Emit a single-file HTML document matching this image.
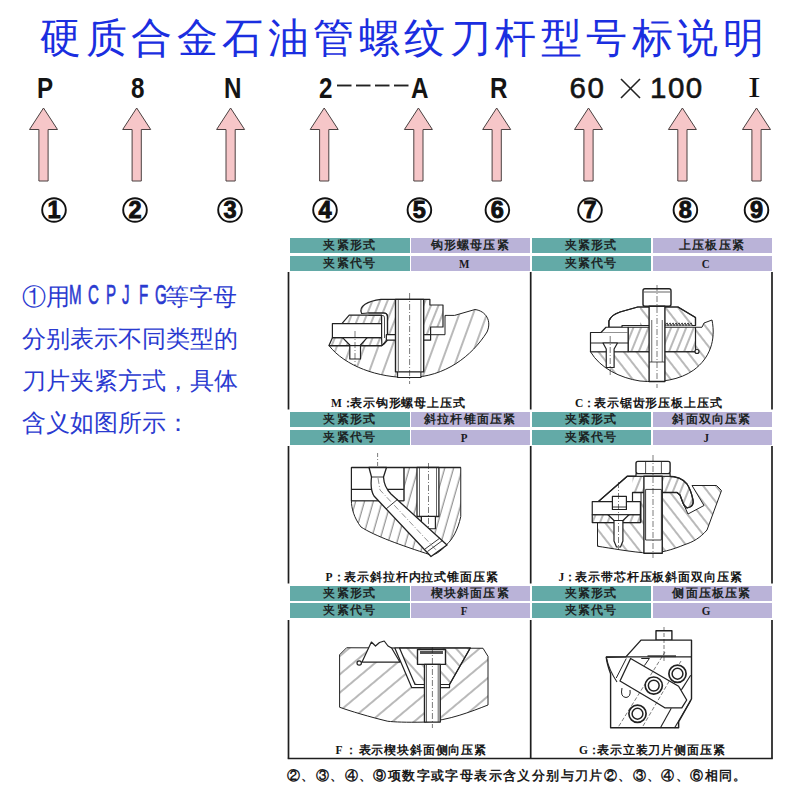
<!DOCTYPE html>
<html><head><meta charset="utf-8">
<style>
html,body{margin:0;padding:0;background:#fff;}
body{width:800px;height:800px;position:relative;overflow:hidden;font-family:"Liberation Sans",sans-serif;}
.a{position:absolute;white-space:nowrap;}
#title{left:40px;top:14px;font-size:41px;letter-spacing:4.5px;color:#1a2ee0;line-height:48px;}
.lt{font-size:29.5px;font-weight:bold;color:#141414;line-height:30px;top:73px;transform:scaleX(0.82);transform-origin:left top;}
.left{font-size:24px;color:#2a3ad0;line-height:30px;left:22px;}
.lg{font-size:28px;color:#2a3ad0;line-height:30px;top:280px;-webkit-text-stroke:0.7px #2a3ad0;transform:scaleX(0.54);transform-origin:left top;}
.hd{position:absolute;height:15px;font-size:12px;line-height:15px;text-align:center;color:#1c2424;font-weight:bold;letter-spacing:1.2px;font-size:11.5px;}
.hl{font-family:"Liberation Serif",serif;font-size:13px;font-weight:bold;display:inline-block;transform:scaleX(0.85);position:relative;left:-5.5px;color:#1a1a22;}
.t{background:#63aaa7;}
.p{background:#bab3d8;}
.cap{position:absolute;font-size:11.5px;line-height:14px;color:#151515;font-weight:bold;letter-spacing:0.85px;white-space:nowrap;}
.cl{font-family:"Liberation Serif",serif;letter-spacing:0;}
</style></head><body>
<div id="title" class="a">硬质合金石油管螺纹刀杆型号标说明</div>

<div class="a lt" style="left:37px">P</div>
<div class="a lt" style="left:131px">8</div>
<div class="a lt" style="left:224px">N</div>
<div class="a lt" style="left:319px">2</div>
<div class="a lt" style="left:411px">A</div>
<div class="a lt" style="left:490px">R</div>
<div class="a" style="left:569.5px;top:73px;font-size:29.5px;line-height:30px;color:#141414;letter-spacing:1.5px;-webkit-text-stroke:0.6px #141414">60</div>
<div class="a" style="left:650px;top:73px;font-size:29.5px;line-height:30px;color:#141414;letter-spacing:1.5px;-webkit-text-stroke:0.6px #141414">100</div>
<div class="a" style="left:748px;top:72px;font-family:'Liberation Serif',serif;font-size:29px;line-height:30px;color:#111;transform:scaleX(1.3);transform-origin:left top">I</div>
<svg class="a" style="left:0;top:0" width="800" height="240">
  <g stroke="#222" stroke-width="1.6">
    <line x1="337" y1="85.5" x2="351.5" y2="85.5" stroke-width="1.9"/><line x1="356" y1="85.5" x2="370.5" y2="85.5" stroke-width="1.9"/><line x1="375" y1="85.5" x2="389.5" y2="85.5" stroke-width="1.9"/><line x1="394" y1="85.5" x2="408.5" y2="85.5" stroke-width="1.9"/>
    <line x1="621" y1="79" x2="640" y2="98"/><line x1="640" y1="79" x2="621" y2="98"/>
  </g>
  <g fill="#f6c6c8" stroke="#4a4040" stroke-width="1">
    <path id="arr" d="M0,108 L14,129.5 L4.6,129.5 L4.6,181 L-4.6,181 L-4.6,129.5 L-14,129.5 Z" transform="translate(43.5,0)"/>
    <path d="M0,108 L14,129.5 L4.6,129.5 L4.6,181 L-4.6,181 L-4.6,129.5 L-14,129.5 Z" transform="translate(136.7,0)"/>
    <path d="M0,108 L14,129.5 L4.6,129.5 L4.6,181 L-4.6,181 L-4.6,129.5 L-14,129.5 Z" transform="translate(230.6,0)"/>
    <path d="M0,108 L14,129.5 L4.6,129.5 L4.6,181 L-4.6,181 L-4.6,129.5 L-14,129.5 Z" transform="translate(324.2,0)"/>
    <path d="M0,108 L14,129.5 L4.6,129.5 L4.6,181 L-4.6,181 L-4.6,129.5 L-14,129.5 Z" transform="translate(418.4,0)"/>
    <path d="M0,108 L14,129.5 L4.6,129.5 L4.6,181 L-4.6,181 L-4.6,129.5 L-14,129.5 Z" transform="translate(496.7,0)"/>
    <path d="M0,108 L14,129.5 L4.6,129.5 L4.6,181 L-4.6,181 L-4.6,129.5 L-14,129.5 Z" transform="translate(588.5,0)"/>
    <path d="M0,108 L14,129.5 L4.6,129.5 L4.6,181 L-4.6,181 L-4.6,129.5 L-14,129.5 Z" transform="translate(682.4,0)"/>
    <path d="M0,108 L14,129.5 L4.6,129.5 L4.6,181 L-4.6,181 L-4.6,129.5 L-14,129.5 Z" transform="translate(756.5,0)"/>
  </g>
  <g fill="none" stroke="#111" stroke-width="1.9">
    <circle cx="54" cy="210" r="11.8"/><circle cx="135" cy="210" r="11.8"/><circle cx="230" cy="210" r="11.8"/><circle cx="325" cy="210" r="11.8"/><circle cx="419.4" cy="210" r="11.8"/><circle cx="497.4" cy="210" r="11.8"/><circle cx="590" cy="210" r="11.8"/><circle cx="685.4" cy="210" r="11.8"/><circle cx="756.5" cy="210" r="11.8"/>
  </g>
  <g fill="#111" stroke="#111" stroke-width="0.9" font-family="Liberation Sans" font-weight="bold" font-size="23.5" text-anchor="middle">
    <text x="54" y="217.8">1</text><text x="135" y="217.8">2</text><text x="230" y="217.8">3</text><text x="325" y="217.8">4</text><text x="419.4" y="217.8">5</text><text x="497.4" y="217.8">6</text><text x="590" y="217.8">7</text><text x="685.4" y="217.8">8</text><text x="756.5" y="217.8">9</text>
  </g>
</svg>

<div class="a left" style="top:282px">①用</div>
<div class="a left" style="top:282px;left:165px">等字母</div>
<div class="a lg" style="left:69px">M</div><div class="a lg" style="left:87.5px">C</div><div class="a lg" style="left:105.5px">P</div><div class="a lg" style="left:122px">J</div><div class="a lg" style="left:138.5px">F</div><div class="a lg" style="left:155px">G</div>
<div class="a left" style="top:324px">分别表示不同类型的</div>
<div class="a left" style="top:366px">刀片夹紧方式，具体</div>
<div class="a left" style="top:408px">含义如图所示：</div>

<!-- table headers -->
<div class="hd t" style="left:290px;top:238px;width:119.5px">夹紧形式</div>
<div class="hd p" style="left:411px;top:238px;width:118.5px">钩形螺母压紧</div>
<div class="hd t" style="left:531.5px;top:238px;width:119px">夹紧形式</div>
<div class="hd p" style="left:652.5px;top:238px;width:119px">上压板压紧</div>
<div class="hd t" style="left:290px;top:255.5px;width:119.5px">夹紧代号</div>
<div class="hd p" style="left:411px;top:255.5px;width:118.5px"><span class="hl">M</span></div>
<div class="hd t" style="left:531.5px;top:255.5px;width:119px">夹紧代号</div>
<div class="hd p" style="left:652.5px;top:255.5px;width:119px"><span class="hl">C</span></div>

<div class="hd t" style="left:290px;top:412px;width:119.5px">夹紧形式</div>
<div class="hd p" style="left:411px;top:412px;width:118.5px">斜拉杆锥面压紧</div>
<div class="hd t" style="left:531.5px;top:412px;width:119px">夹紧形式</div>
<div class="hd p" style="left:652.5px;top:412px;width:119px">斜面双向压紧</div>
<div class="hd t" style="left:290px;top:429.5px;width:119.5px">夹紧代号</div>
<div class="hd p" style="left:411px;top:429.5px;width:118.5px"><span class="hl">P</span></div>
<div class="hd t" style="left:531.5px;top:429.5px;width:119px">夹紧代号</div>
<div class="hd p" style="left:652.5px;top:429.5px;width:119px"><span class="hl">J</span></div>

<div class="hd t" style="left:290px;top:586px;width:119.5px">夹紧形式</div>
<div class="hd p" style="left:411px;top:586px;width:118.5px">楔块斜面压紧</div>
<div class="hd t" style="left:531.5px;top:586px;width:119px">夹紧形式</div>
<div class="hd p" style="left:652.5px;top:586px;width:119px">侧面压板压紧</div>
<div class="hd t" style="left:290px;top:603px;width:119.5px">夹紧代号</div>
<div class="hd p" style="left:411px;top:603px;width:118.5px"><span class="hl">F</span></div>
<div class="hd t" style="left:531.5px;top:603px;width:119px">夹紧代号</div>
<div class="hd p" style="left:652.5px;top:603px;width:119px"><span class="hl">G</span></div>

<svg class="a" style="left:0;top:0" width="800" height="800">
  <g stroke="#1e1e1e" stroke-width="1.7">
    <line x1="288.5" y1="272" x2="288.5" y2="409.5"/><line x1="530.7" y1="272" x2="530.7" y2="409.5"/><line x1="772" y1="272" x2="772" y2="409.5"/>
    <line x1="288.5" y1="446" x2="288.5" y2="583.5"/><line x1="530.7" y1="446" x2="530.7" y2="583.5"/><line x1="772" y1="446" x2="772" y2="583.5"/>
    <line x1="288.5" y1="620" x2="288.5" y2="758.5"/><line x1="530.7" y1="620" x2="530.7" y2="758.5"/><line x1="772" y1="620" x2="772" y2="758.5"/>
    <line x1="287.7" y1="758.5" x2="772.8" y2="758.5"/>
  </g>
</svg>


<svg class="a" style="left:0;top:0" width="800" height="800">
<defs>
 <pattern id="hb" patternUnits="userSpaceOnUse" width="13" height="50" patternTransform="rotate(20)"><line x1="6" y1="0" x2="6" y2="50" stroke="#444" stroke-width="0.75"/></pattern>
 <pattern id="hp" patternUnits="userSpaceOnUse" width="8.5" height="50" patternTransform="rotate(16)"><line x1="4" y1="0" x2="4" y2="50" stroke="#444" stroke-width="0.75"/></pattern>
 <pattern id="hs" patternUnits="userSpaceOnUse" width="7" height="50" patternTransform="rotate(22)"><line x1="3" y1="0" x2="3" y2="50" stroke="#444" stroke-width="0.75"/></pattern>
 <pattern id="hbr" patternUnits="userSpaceOnUse" width="10" height="50" patternTransform="rotate(-38)"><line x1="5" y1="0" x2="5" y2="50" stroke="#444" stroke-width="0.75"/></pattern>
 <pattern id="hsr" patternUnits="userSpaceOnUse" width="7" height="50" patternTransform="rotate(-38)"><line x1="3" y1="0" x2="3" y2="50" stroke="#444" stroke-width="0.75"/></pattern>
 <pattern id="hf" patternUnits="userSpaceOnUse" width="14" height="50" patternTransform="rotate(50)"><line x1="7" y1="0" x2="7" y2="50" stroke="#444" stroke-width="0.75"/></pattern>
 <pattern id="hfr" patternUnits="userSpaceOnUse" width="9" height="50" patternTransform="rotate(-42)"><line x1="4" y1="0" x2="4" y2="50" stroke="#444" stroke-width="0.75"/></pattern>
</defs>
<g stroke="#222" stroke-width="1.2" stroke-linejoin="round" fill="none">

<!-- ===== M ===== -->
<path fill="url(#hb)" stroke-width="1" d="M329,345.6 C345,366 378,378 410,377.5 C445,377 472,356 487,332 C492,321 486,311 475,309.5 L454.6,315.4 L445,315.4 L445,334.7 L386.4,334.7 L386.4,340 L381.9,345.6 Z"/>
<path fill="url(#hs)" d="M361.6,313.5 C358,306 368,301 381,299.4 L429.9,299.4 L429.9,305 L443,305 L443,327 L430.6,327 L430.6,334.7 L387.5,334.7 L387.5,316 Q387,313 384,313 L368.4,313 Z"/>
<path fill="url(#hs)" d="M341.9,323.6 L349.2,315.2 L381.6,315.2 L381.6,323.6 Z"/>
<path fill="url(#hs)" d="M332.4,337.7 L381.6,337.7 L381.9,345.6 L329,345.6 Z"/>
<rect x="332.4" y="323.6" width="49.2" height="14.1" fill="#fff"/>
<path fill="#fff" d="M342.5,337.7 L367.2,337.7 L360.5,345 L360.5,359 L349.8,359 L349.8,345 Z"/>
<path d="M368.4,313 L384,313 Q387.5,313 387.5,317 L387.5,340 L384,344 L381.9,345.6"/><path d="M368.4,315.5 L383,315.5 Q384.5,315.5 384.5,318 L384.5,338" stroke-width="0.8"/>
<rect x="386.4" y="334.7" width="44.2" height="5.5" fill="#fff"/>
<rect x="397.6" y="371" width="23.3" height="6.5" fill="#fff" stroke-width="1.1"/>
<rect x="395.5" y="299.4" width="28.2" height="72.5" fill="#fff" stroke-width="1.4"/>
<line x1="398.3" y1="300" x2="398.3" y2="371" stroke-width="0.7"/><line x1="420.9" y1="300" x2="420.9" y2="371" stroke-width="0.7"/>
<line x1="409.6" y1="293" x2="409.6" y2="384" stroke-width="0.6" stroke-dasharray="6,2,1,2"/>
<line x1="355" y1="331" x2="355" y2="366" stroke-width="0.6" stroke-dasharray="6,2,1,2"/>
<line x1="329" y1="345.6" x2="382" y2="345.6" stroke-width="1.4"/>

<!-- ===== C ===== -->
<path fill="url(#hbr)" stroke-width="1" d="M590.5,351.75 L695.5,351.75 L695.5,327.25 L702,327.25 L704,323 L712,320 C716,340 710,358 693.75,370 C680,380 660,383 640,381 C620,378 600,368 590.5,351.75 Z"/>
<rect x="628.1" y="327.25" width="67.4" height="24.5" fill="url(#hs)"/>
<path fill="#fff" d="M608.9,327.25 L608.9,321 Q611,315 620,312 L637.75,307 L678,307 L695.5,317.6 L695.5,325.5 L664,325.5 L622,325.5 L622,327.25 Z"/>
<path fill="url(#hbr)" stroke="none" d="M640,307 L678,307 L695.5,317.6 L695.5,325.5 L640,325.5 Z"/>
<path d="M608.9,327.25 L608.9,321 Q611,315 620,312 L637.75,307 L678,307 L695.5,317.6 L695.5,325.5 L664,325.5"/>
<path d="M665,325.5 l2.2,-2.6 l0.8,2.6 l2.2,-2.6 l0.8,2.6 l2.2,-2.6 l0.8,2.6 l2.2,-2.6 l0.8,2.6 l2.2,-2.6 l0.8,2.6 l2.2,-2.6 l0.8,2.6 l2.2,-2.6 l0.8,2.6 l2.2,-2.6 l0.8,2.6 l2.2,-2.6 l0.8,2.6" stroke-width="0.9" fill="#fff"/>
<line x1="622" y1="325.5" x2="664" y2="325.5"/>
<rect x="590.5" y="332.5" width="37.6" height="19.25" fill="#fff"/>
<path fill="#fff" d="M601,332.5 L606,327.25 L628.1,327.25 L628.1,332.5"/>
<line x1="590.5" y1="343" x2="628.1" y2="343"/>
<path fill="#fff" d="M603,343 L617.5,343 L614.1,349 L614.1,367.5 L606.25,367.5 L606.25,349 Z"/>
<rect x="643" y="288.75" width="28" height="17.5" rx="2" fill="#fff" stroke-width="1.4"/>
<line x1="644" y1="292" x2="670" y2="292" stroke-width="0.7"/>
<rect x="649.1" y="306.25" width="15.8" height="75.25" fill="#fff" stroke-width="1.4"/>
<line x1="651.75" y1="320" x2="651.75" y2="362" stroke-width="0.7"/><line x1="662.25" y1="320" x2="662.25" y2="362" stroke-width="0.7"/>
<line x1="649.1" y1="362" x2="664.9" y2="362" stroke-width="0.8"/>
<line x1="657" y1="285" x2="657" y2="388" stroke-width="0.6" stroke-dasharray="6,2,1,2"/>
<line x1="610.2" y1="336" x2="610.2" y2="375" stroke-width="0.6" stroke-dasharray="6,2,1,2"/>
<circle cx="697" cy="351.5" r="2" fill="#fff"/>

<!-- ===== P ===== -->
<path fill="url(#hp)" stroke-width="1" d="M351.4,500.75 L403.9,500.75 L403.9,467.5 L460.75,467.5 L460.75,516.5 C458,530 452,540 446.75,544.5 C440,552 435,555 431,555 C400,545 375,536 361,527 C354,518 351.4,508 351.4,500.75 Z"/>
<rect x="351.4" y="467.5" width="52.5" height="33.25" fill="#fff"/>
<line x1="351.4" y1="489.4" x2="403.9" y2="489.4"/>
<line x1="351.4" y1="467.5" x2="460.75" y2="467.5" stroke-width="1.5"/>
<rect x="417" y="467.5" width="21.9" height="49" fill="#fff" stroke-width="1.3"/>
<rect x="421.4" y="516.5" width="14" height="12.25" fill="#fff"/>
<line x1="419.5" y1="468" x2="419.5" y2="516" stroke-width="0.7"/><line x1="436.5" y1="468" x2="436.5" y2="516" stroke-width="0.7"/>
<path fill="#fff" stroke-width="1.3" d="M369,467.5 L386.5,467.5 L383.5,477 Q384,487 391,494 L447,545 L431,556.5 L374,496 Q370,490 371.5,477 Z"/>
<line x1="371.5" y1="477" x2="383.5" y2="477" stroke-width="0.9"/>
<line x1="386" y1="509" x2="398" y2="499" stroke-width="0.9"/>
<line x1="425" y1="549" x2="440" y2="538" stroke-width="0.9"/><line x1="427.5" y1="551.5" x2="442.5" y2="540.5" stroke-width="0.9"/>
<line x1="377.6" y1="453" x2="377.6" y2="466" stroke-width="0.6" stroke-dasharray="4,2,1,2"/>
<path d="M378,478 L380,490 L438,552" stroke-width="0.5" stroke-dasharray="6,2,1,2"/>
<line x1="428.5" y1="463" x2="428.5" y2="528" stroke-width="0.6" stroke-dasharray="6,2,1,2"/>

<!-- ===== J ===== -->
<path fill="url(#hbr)" stroke-width="1" d="M597.5,522.6 L641,522.6 L641,492.5 L677,492.5 L680,495 L683,503 L688,514 L704,505.5 L692,485.5 L716.5,485.5 L721.5,490.5 L707,530 C700,538 693,542 685,544.5 C672,550 660,553 650,553.25 C630,552 610,548 597.5,546.25 Z"/>
<path fill="#fff" d="M598.4,501.6 L627.25,476.25 L668,476.25 Q681,476.25 687,484 Q691,490 693,500 Q694,505 690,507 L687,508 Q684,506 683,503 L680,495 L677,492.5 L632.5,492.5 L632.5,501.6 Z"/>
<path fill="url(#hs)" stroke="none" d="M632.5,476.25 L668,476.25 Q681,476.25 687,484 Q691,490 693,500 Q694,505 690,507 L687,508 Q684,506 683,503 L680,495 L677,492.5 L632.5,492.5 Z"/>
<path d="M598.4,501.6 L627.25,476.25 L668,476.25 Q681,476.25 687,484 Q691,490 693,500 Q694,505 690,507 L687,508 Q684,506 683,503 L680,495 L677,492.5 L632.5,492.5" stroke-width="1.3"/>
<rect x="592.25" y="501.6" width="48.15" height="13.15" fill="#fff"/>
<rect x="592.25" y="514.75" width="48.15" height="7.85" fill="url(#hs)"/>
<rect x="612.4" y="496.4" width="14" height="13.1" fill="#fff"/>
<line x1="612.4" y1="507" x2="626.4" y2="507" stroke-width="0.9"/>
<path fill="#fff" d="M608,514.75 L629,514.75 L623,520.5 L614,520.5 Z"/>
<path fill="#fff" d="M614,520.5 L622.9,520.5 L622.9,541 L620.5,547 L616.5,547 L614,541 Z"/>
<rect x="636" y="461.4" width="34.1" height="12.2" rx="2" fill="#fff" stroke-width="1.4"/>
<line x1="645.6" y1="462" x2="645.6" y2="473" stroke-width="0.8"/><line x1="661.4" y1="462" x2="661.4" y2="473" stroke-width="0.8"/>
<rect x="636" y="473.6" width="34.1" height="2.65" fill="#fff"/>
<rect x="643.9" y="476.25" width="18.35" height="77" fill="#fff" stroke-width="1.4"/>
<rect x="645.6" y="489.4" width="15.8" height="50.6" fill="#fff" stroke-width="0.9"/>
<line x1="653" y1="455" x2="653" y2="558" stroke-width="0.6" stroke-dasharray="6,2,1,2"/>
<line x1="618.5" y1="482" x2="618.5" y2="550" stroke-width="0.6" stroke-dasharray="6,2,1,2"/>

<!-- ===== F ===== -->
<path fill="url(#hf)" stroke-width="1" d="M346.6,647.75 L483,648.25 L488,656.4 L488,705 C470,712 450,720 425,722.1 C405,722.5 395,722 387.75,721.25 C370,717 350,711 339.6,707.25 L339.6,654.75 Z"/>
<path fill="#fff" d="M394.8,648 L411.8,687.7 L449.5,687.7 L449.5,684.5 L470.25,648 Z"/>
<path fill="url(#hfr)" d="M399.5,648 L415,684.5 L449.5,684.5 L470.25,648 Z"/>
<path fill="#fff" d="M361.9,662.2 L371.4,642 L375.5,646 L379.5,642.5 L384.2,641 L388,646 L391.6,648 L400,662.2 Z"/>
<circle cx="359.2" cy="663" r="2.2" fill="#fff"/>
<rect x="417.5" y="649.5" width="28" height="14.9" fill="#fff" stroke-width="1.4"/>
<rect x="420" y="651" width="23" height="3" fill="#555" stroke="none"/>
<rect x="424.5" y="664.4" width="15.75" height="57.7" fill="#fff" stroke-width="1.4"/>
<line x1="426.5" y1="665" x2="426.5" y2="722" stroke-width="0.7"/><line x1="438.2" y1="665" x2="438.2" y2="722" stroke-width="0.7"/>
<line x1="432.4" y1="647" x2="432.4" y2="728" stroke-width="0.6" stroke-dasharray="6,2,1,2"/>


<!-- ===== G ===== -->
<rect x="656" y="630.8" width="15.9" height="9.3" fill="#fff" stroke-width="1.4"/>
<path fill="#fff" d="M625.9,656.9 L641,640.1 L691.5,640.1 L691.5,698.8 L678.6,722 L678.6,727.8 L610.6,727.8 L610.6,673.75 Q607,664 606.25,657.25 Z" stroke-width="1.4"/>
<line x1="606" y1="656.9" x2="691.5" y2="656.9" stroke-width="1.1"/>
<rect x="647.5" y="655.3" width="28.5" height="1.8" fill="#333" stroke="none"/>
<path d="M606.25,657.25 Q609,670 617,682" stroke-width="1.1"/>
<path fill="#fff" d="M630.6,658.5 L678.6,686.25 L686.7,700 L681.8,707.8 L664.75,707.8 L655,701.7 L620,681 Z" stroke-width="1.3"/>
<line x1="626.25" y1="658.5" x2="616.25" y2="678" stroke-width="1"/>
<path d="M641.25,658.5 L649.4,658.5 L644.4,665.6" stroke-width="1"/>
<path d="M622,688 Q620,697 626,697.5 Q631,697 630,690" fill="#fff" stroke-width="1"/>
<line x1="690.7" y1="675.3" x2="681.4" y2="689.9" stroke-width="1.1"/><line x1="690.7" y1="700.5" x2="674.5" y2="728" stroke-width="1.1"/><line x1="678.6" y1="722" x2="678.6" y2="728" stroke-width="1"/>
<line x1="671.25" y1="708.2" x2="660.3" y2="728" stroke-width="1.1"/>
<line x1="618.75" y1="726.25" x2="665" y2="652" stroke-width="0.6" stroke-dasharray="4,2"/>
<line x1="643" y1="726" x2="681" y2="661" stroke-width="0.6" stroke-dasharray="4,2"/>
<line x1="664" y1="627" x2="664" y2="662" stroke-width="0.6" stroke-dasharray="4,2"/>
<g fill="#fff"><circle cx="677.5" cy="673.75" r="8.6" stroke-width="1.7"/><circle cx="677.5" cy="673.75" r="5.4" stroke-width="1.5"/>
<circle cx="653.75" cy="685.6" r="8.6" stroke-width="1.7"/><circle cx="653.75" cy="685.6" r="5.4" stroke-width="1.5"/>
<circle cx="637.5" cy="713.75" r="8.6" stroke-width="1.7"/><circle cx="637.5" cy="713.75" r="5.4" stroke-width="1.5"/></g>
</g>
</svg>

<div class="cap cl" style="left:331px;top:396px">M：</div><div class="cap" style="left:350px;top:396px">表示钩形螺母上压式</div>
<div class="cap cl" style="left:575px;top:396px">C：</div><div class="cap" style="left:594px;top:396px">表示锯齿形压板上压式</div>
<div class="cap cl" style="left:325.5px;top:569.5px">P：</div><div class="cap" style="left:344.4px;top:569.5px">表示斜拉杆内拉式锥面压紧</div>
<div class="cap cl" style="left:558.6px;top:569.5px">J：</div><div class="cap" style="left:575.4px;top:569.5px">表示带芯杆压板斜面双向压紧</div>
<div class="cap cl" style="left:335.4px;top:742.5px">F ：</div><div class="cap" style="left:358.5px;top:742.5px">表示楔块斜面侧向压紧</div>
<div class="cap cl" style="left:579px;top:742.5px">G：</div><div class="cap" style="left:597px;top:742.5px">表示立装刀片侧面压紧</div>

<div class="a" style="left:287px;top:768px;font-size:13px;line-height:16px;color:#1a1a1a;font-weight:bold;letter-spacing:1.4px">②、③、④、⑨项数字或字母表示含义分别与刀片②、③、④、⑥相同。</div>
</body></html>
